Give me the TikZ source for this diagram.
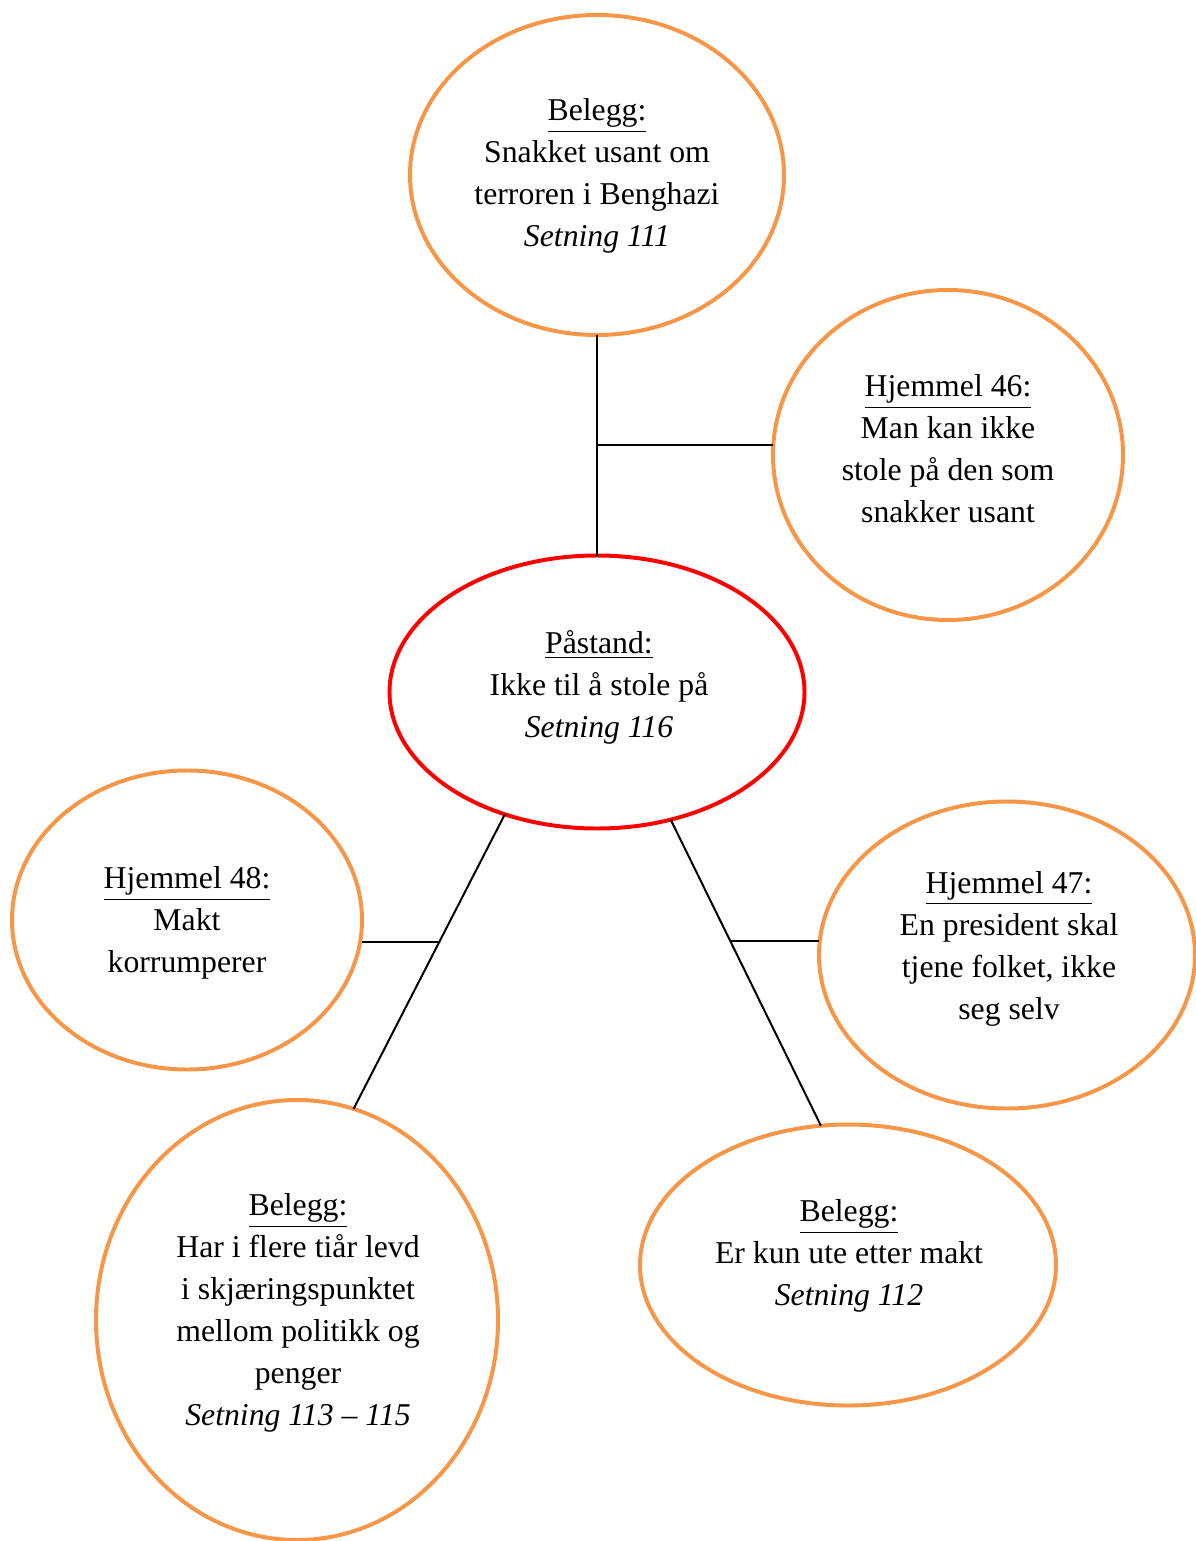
\documentclass[tikz,border=0pt]{standalone}
\usepackage{fontspec}
\setmainfont{Liberation Serif}
\usetikzlibrary{shapes.geometric,calc}
\definecolor{orng}{HTML}{F79646}
\definecolor{rd}{HTML}{FF0000}
\def\u{0.378pt}
\begin{document}
\begin{tikzpicture}[x=0.378pt,y=-0.378pt,
  bub/.style 2 args={ellipse, draw=orng, line width=1.5pt, inner sep=0pt, outer sep=0pt,
     minimum width=#1*\u, minimum height=#2*\u},
  claim/.style 2 args={ellipse, draw=rd, line width=1.5pt, inner sep=0pt, outer sep=0pt,
     minimum width=#1*\u, minimum height=#2*\u},
  txt/.style={align=center, font=\fontsize{12pt}{15.9pt}\selectfont, inner sep=0pt},
  conn/.style={draw=black, line width=0.75pt}]
\useasboundingbox (0,0) rectangle (1195,1541);
\node[bub={374}{320}] (e1) at (597,175) {};
\node[bub={350}{330}] (e2) at (948,455) {};
\node[claim={415}{273}] (e3) at (597,692) {};
\node[bub={350}{299}] (e4) at (187,920) {};
\node[bub={376}{307}] (e5) at (1007,955) {};
\node[bub={402}{440}] (e6) at (297,1320) {};
\node[bub={416}{281}] (e7) at (848,1265) {};

\node[txt] (t1) at (597,176) {\underline{Belegg:}\\Snakket usant om\\terroren i Benghazi\\\textit{Setning 111}};
\node[txt] (t2) at (948,449) {\underline{Hjemmel 46:}\\Man kan ikke\\stole på den som\\snakker usant};
\node[txt] (t3) at (599,687) {\underline{Påstand:}\\Ikke til å stole på\\\textit{Setning 116}};
\node[txt] (t4) at (187,923) {\underline{Hjemmel 48:}\\Makt\\korrumperer};
\node[txt] (t5) at (1009,949) {\underline{Hjemmel 47:}\\En president skal\\tjene folket, ikke\\seg selv};
\node[txt] (t6) at (298,1313) {\underline{Belegg:}\\Har i flere tiår levd\\i skjæringspunktet\\mellom politikk og\\penger\\\textit{Setning 113 – 115}};
\node[txt] (t7) at (849,1256) {\underline{Belegg:}\\Er kun ute etter makt\\\textit{Setning 112}};

\draw[conn] (e1.south) -- (e3.north);
\coordinate (j1) at (597,445);
\draw[conn] (j1) -- (j1 -| e2.west);

\draw[conn] (e3.233) -- (e6.75);
\coordinate (jl) at ($(e3.233)!0.433!(e6.75)$);
\draw[conn] (jl) -- (jl -| e4.east);

\draw[conn] (e3.300) -- (e7.101);
\coordinate (jr) at ($(e3.300)!0.398!(e7.101)$);
\draw[conn] (jr) -- (jr -| e5.west);
\end{tikzpicture}
\end{document}
